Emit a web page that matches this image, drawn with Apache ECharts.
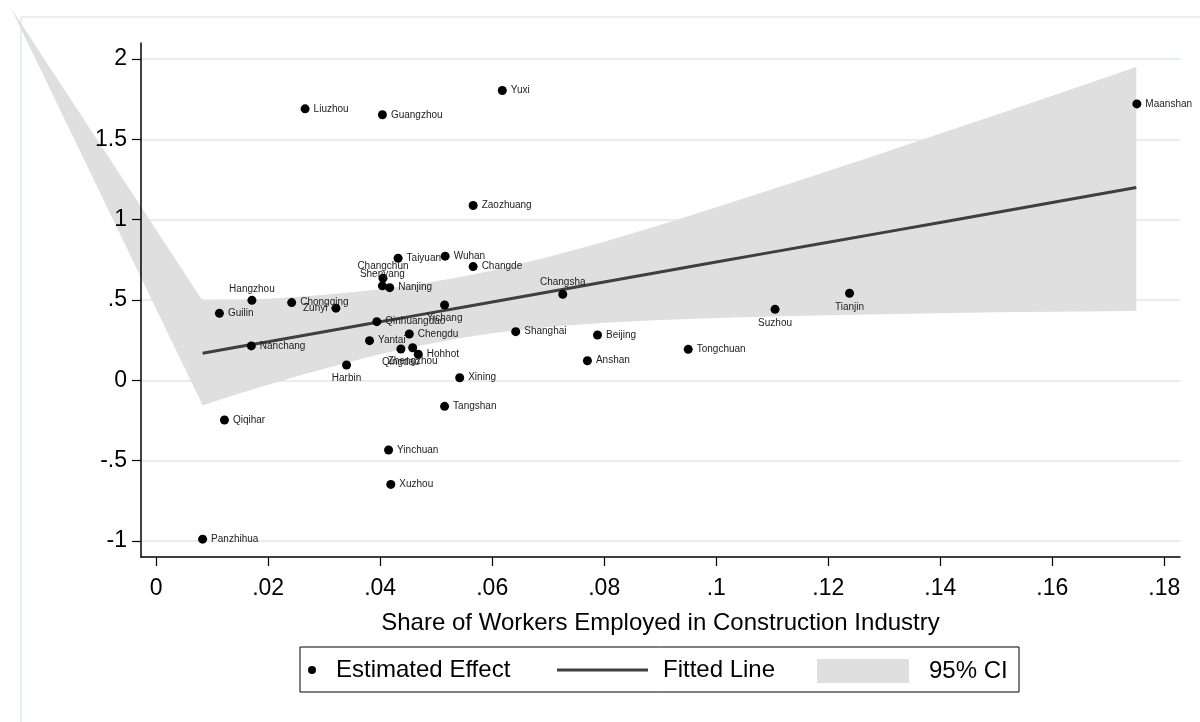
<!DOCTYPE html>
<html><head><meta charset="utf-8">
<script src="https://cdn.jsdelivr.net/npm/echarts@6/dist/echarts.min.js"></script>
<style>html,body{margin:0;padding:0;background:#fff}#main{width:1200px;height:722px}</style>
</head><body><div id="main"></div>
<script>
// ---- data ----
const cities = ['Yuxi','Liuzhou','Guangzhou','Zaozhuang','Maanshan','Tianjin','Suzhou','Changsha','Shanghai','Beijing','Anshan','Tongchuan','Guilin','Hangzhou','Chongqing','Zunyi','Nanchang','Harbin','Qinhuangdao','Yantai','Chengdu','Qingdao','Zhengzhou','Hohhot','Yichang','Xining','Tangshan','Changchun','Shenyang','Nanjing','Taiyuan','Wuhan','Changde','Qiqihar','Yinchuan','Xuzhou','Panzhihua'];
const shareX = [0.0618,0.0266,0.0404,0.0566,0.1751,0.1238,0.1105,0.0726,0.0642,0.0788,0.0770,0.0950,0.0113,0.0171,0.0242,0.0321,0.0170,0.0340,0.0394,0.0381,0.0452,0.0437,0.0458,0.0468,0.0515,0.0542,0.0515,0.0405,0.0404,0.0417,0.0432,0.0516,0.0566,0.0122,0.0415,0.0419,0.0083];
const effectY = [1.804,1.690,1.653,1.088,1.721,0.542,0.442,0.536,0.303,0.282,0.122,0.193,0.417,0.498,0.484,0.449,0.214,0.095,0.365,0.247,0.288,0.195,0.203,0.162,0.469,0.016,-0.162,0.636,0.588,0.577,0.760,0.773,0.708,-0.247,-0.434,-0.648,-0.989];

const fitX    = [0.0083,0.015,0.02,0.025,0.03,0.035,0.04,0.045,0.05,0.055,0.06,0.07,0.08,0.09,0.10,0.11,0.12,0.13,0.14,0.15,0.16,0.175];
const fitY    = [0.168,0.210,0.240,0.271,0.302,0.333,0.364,0.395,0.426,0.457,0.488,0.550,0.612,0.674,0.736,0.798,0.859,0.921,0.983,1.045,1.107,1.200];
const ciUpper = [0.495,0.500,0.508,0.519,0.532,0.548,0.567,0.589,0.616,0.648,0.684,0.767,0.863,0.967,1.077,1.189,1.303,1.419,1.536,1.654,1.772,1.950];
const ciLower = [-0.155,-0.080,-0.028,0.023,0.072,0.118,0.162,0.201,0.236,0.267,0.293,0.332,0.358,0.376,0.388,0.397,0.405,0.412,0.418,0.423,0.427,0.432];
const ciStart = [-0.0259, 2.316];

const xTickValues = [0,0.02,0.04,0.06,0.08,0.10,0.12,0.14,0.16,0.18];
const xTickLabels = ['0','.02','.04','.06','.08','.1','.12','.14','.16','.18'];
const yTickValues = [-1,-0.5,0,0.5,1,1.5,2];
const yTickLabels = ['-1','-.5','0','.5','1','1.5','2'];

// ---- styling ----
const FONT = "'Liberation Sans', Arial, sans-serif";
const labelPos = {Hangzhou:'top',Changchun:'top',Shenyang:'top',Changsha:'top',Harbin:'bottom',Suzhou:'bottom',Tianjin:'bottom',Yichang:'bottom',Qingdao:'bottom',Zhengzhou:'bottom',Zunyi:'left'};

const scatterData = cities.map((c,i)=>({
  name:c, value:[shareX[i], effectY[i]],
  label:{position: labelPos[c] || 'right', distance: (labelPos[c]==='top')?2:4}
}));
const lineData = fitX.map((x,i)=>[x, fitY[i]]);

const chart = echarts.init(document.getElementById('main'), null, {renderer:'canvas'});
const gridColor = '#e7eef1';
chart.setOption({
  backgroundColor:'#fff',
  animation:false,
  textStyle:{fontFamily:FONT},
  grid:{left:141, right:20, top:43, bottom:165, containLabel:false},
  xAxis:{
    type:'value', min:-0.0027, max:0.1828, z:10,
    axisLine:{show:true, onZero:false, lineStyle:{color:'#000', width:1.5}},
    axisTick:{show:true, length:9, customValues:xTickValues, lineStyle:{color:'#000', width:1.2}},
    axisLabel:{customValues:xTickValues, margin:20, fontSize:23, color:'#000', fontFamily:FONT,
      formatter:v=>{const k=xTickValues.findIndex(t=>Math.abs(t-v)<1e-9);return k>=0?xTickLabels[k]:'';}},
    splitLine:{show:false},
    name:'Share of Workers Employed in Construction Industry', nameLocation:'middle', nameGap:54,
    nameTextStyle:{fontSize:24, color:'#000', fontFamily:FONT}
  },
  yAxis:[{
    type:'value', min:-1.1, max:2.1, z:0,
    axisLine:{show:false}, axisTick:{show:false, customValues:yTickValues},
    axisLabel:{show:false, customValues:yTickValues},
    splitLine:{show:true, lineStyle:{color:gridColor, width:2}}
  },{
    type:'value', min:-1.1, max:2.1, z:10, position:'left',
    axisLine:{show:true, onZero:false, lineStyle:{color:'#000', width:1.5}},
    axisTick:{show:true, length:9, customValues:yTickValues, lineStyle:{color:'#000', width:1.2}},
    axisLabel:{customValues:yTickValues, margin:14, fontSize:23, color:'#000', fontFamily:FONT,
      formatter:v=>{const k=yTickValues.findIndex(t=>Math.abs(t-v)<1e-9);return k>=0?yTickLabels[k]:'';}},
    splitLine:{show:false}
  }],
  legend:[{
    data:[{name:'Estimated Effect', icon:'circle'}], left:308, top:658, padding:0,
    itemWidth:8, itemHeight:8, selectedMode:false,
    textStyle:{fontSize:24, color:'#000', fontFamily:FONT, padding:[0,0,0,15]}
  },{
    data:[{name:'Fitted Line', icon:'rect'}], left:557, top:658, padding:0,
    itemWidth:91, itemHeight:3, selectedMode:false,
    textStyle:{fontSize:24, color:'#000', fontFamily:FONT, padding:[0,0,0,10]}
  },{
    data:[{name:'95% CI', icon:'rect'}], left:817, top:659, padding:0,
    itemWidth:92, itemHeight:24, selectedMode:false,
    textStyle:{fontSize:24, color:'#000', fontFamily:FONT, padding:[0,0,0,15]}
  }],
  graphic:[
    {type:'rect', z:-10, silent:true, shape:{x:21, y:17, width:1200, height:720}, style:{fill:'none', stroke:gridColor, lineWidth:2}},
    {type:'rect', z:5, silent:true, shape:{x:300, y:647, width:719, height:45}, style:{fill:'none', stroke:'#000', lineWidth:1}}
  ],
  series:[{
    name:'95% CI', type:'custom', z:1, clip:false, silent:true,
    itemStyle:{color:'#dfdfdf'},
    data:[[fitX[0], ciUpper[0]]],
    renderItem:function(params, api){
      const pts=[api.coord(ciStart)];
      for(let i=0;i<fitX.length;i++) pts.push(api.coord([fitX[i], ciUpper[i]]));
      for(let i=fitX.length-1;i>=0;i--) pts.push(api.coord([fitX[i], ciLower[i]]));
      return {type:'polygon', shape:{points:pts}, style:{fill:'#dfdfdf', stroke:null}};
    }
  },{
    name:'Fitted Line', type:'line', z:3, data:lineData, showSymbol:false, symbol:'none',
    itemStyle:{color:'#3f3f3f'}, lineStyle:{color:'#3f3f3f', width:3}, silent:true
  },{
    name:'Estimated Effect', type:'scatter', z:4, data:scatterData, symbol:'circle', symbolSize:9,
    itemStyle:{color:'#000', opacity:1},
    label:{show:true, formatter:'{b}', fontSize:10, color:'#222', fontFamily:FONT},
    labelLayout:{hideOverlap:false}
  }]
});
</script>
</body></html>
